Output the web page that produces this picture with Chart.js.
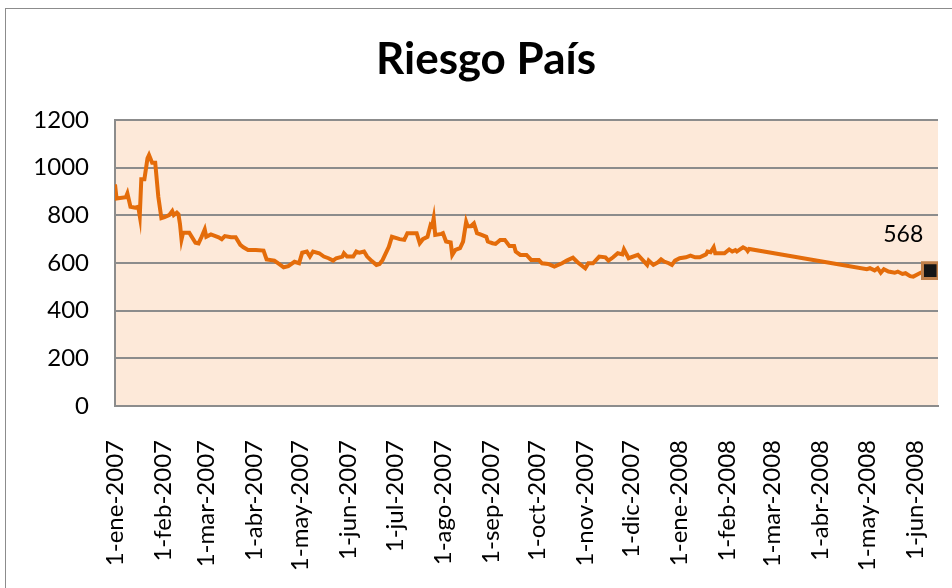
<!DOCTYPE html>
<html>
<head>
<meta charset="utf-8">
<title>Riesgo País</title>
<script src="https://cdn.jsdelivr.net/npm/chart.js@4.4.1/dist/chart.umd.min.js"></script>
<style>
  html, body { margin: 0; padding: 0; background: #fff; overflow: hidden; }
  #frame { position: absolute; left: 5px; top: 8px; width: 1000px; height: 1000px; border: 1.5px solid #8c8c8c; }
  #chart { position: absolute; left: 0; top: 0; }
</style>
</head>
<body>
<div id="frame"></div>
<canvas id="chart" width="952" height="588"></canvas>
<script>
/* DATA – days counted from 1-ene-2007, value in basis points */
const days = [
  0, 1, 7, 8, 10, 13, 15, 16, 17, 19, 21, 22, 24, 26, 28, 30, 32, 35, 37, 38,
  40, 41, 42, 43, 44, 48, 52, 54, 56, 58, 59, 62, 67, 69, 71, 75, 78, 81, 83, 86,
  91, 96, 98, 103, 106, 109, 112, 116, 119, 121, 124, 126, 128, 132, 135, 138, 141, 143, 147, 148,
  150, 154, 156, 158, 161, 163, 166, 169, 171, 173, 177, 179, 182, 184, 187, 189, 195, 197, 199, 202,
  204, 205, 206, 207, 211, 212, 214, 217, 218, 220, 223, 225, 227, 228, 230, 232, 234, 237, 240, 241,
  244, 246, 249, 252, 255, 258, 259, 262, 266, 269, 274, 276, 280, 284, 289, 292, 296, 299, 304, 306,
  309, 313, 317, 319, 322, 325, 328, 329, 332, 338, 341, 344, 345, 348, 351, 353, 355, 358, 360, 362,
  365, 369, 372, 375, 378, 382, 383, 385, 387, 388, 394, 397, 399, 401, 402, 404, 406, 408, 409, 410,
  486, 488, 491, 493, 495, 497, 500, 504, 506, 509, 511, 514, 516, 518, 521, 527
];
const values = [
  930, 871, 876, 892, 836, 832, 836, 797, 951, 951, 1039, 1053, 1021, 1021, 878, 788, 792, 801, 818, 801,
  811, 805, 764, 699, 727, 727, 685, 682, 710, 741, 710, 720, 708, 700, 713, 708, 708, 676, 666, 655,
  655, 652, 615, 610, 596, 582, 587, 605, 599, 643, 648, 627, 648, 641, 627, 620, 610, 620, 627, 641,
  627, 627, 648, 643, 648, 627, 608, 592, 596, 613, 668, 710, 704, 700, 697, 725, 725, 683, 700, 710,
  760, 754, 788, 718, 722, 725, 690, 686, 634, 655, 662, 690, 773, 754, 754, 766, 725, 718, 710, 690,
  683, 680, 697, 697, 671, 671, 648, 634, 634, 613, 613, 599, 596, 585, 599, 610, 622, 603, 578, 599,
  599, 627, 624, 610, 624, 641, 636, 657, 620, 634, 613, 592, 610, 592, 603, 615, 606, 599, 592, 610,
  620, 624, 631, 624, 624, 636, 648, 645, 666, 641, 641, 657, 648, 654, 648, 657, 666, 659, 650, 659,
  574, 578, 569, 578, 559, 574, 564, 559, 564, 554, 557, 545, 543, 550, 560, 568
];

/* X TICKS – first day of each month */
const tickLabels = [
  "1-ene-2007", "1-feb-2007", "1-mar-2007", "1-abr-2007", "1-may-2007", "1-jun-2007",
  "1-jul-2007", "1-ago-2007", "1-sep-2007", "1-oct-2007", "1-nov-2007", "1-dic-2007",
  "1-ene-2008", "1-feb-2008", "1-mar-2008", "1-abr-2008", "1-may-2008", "1-jun-2008"
];
const tickDays = tickLabels.map((_, i) =>
  Math.round((Date.UTC(2007, i, 1) - Date.UTC(2007, 0, 1)) / 86400000));

const yTicks = [0, 200, 400, 600, 800, 1000, 1200];

const points = days.map((d, i) => ({ x: d, y: values[i] }));
const last = points.length - 1;

const FONT = "Lato";
const GRAY = "#8c8c8c";

/* PLOT AREA FILL */
const plotBg = {
  id: "plotBg",
  beforeDraw(chart) {
    const { ctx, chartArea: a } = chart;
    ctx.save();
    ctx.fillStyle = "#fde9d9";
    ctx.fillRect(a.left, a.top, a.right - a.left, a.bottom - a.top);
    ctx.restore();
  }
};

/* TITLE (chart frame is wider than the window, so it is centred on the frame) */
const titleText = {
  id: "titleText",
  afterDraw(chart) {
    const { ctx } = chart;
    ctx.save();
    ctx.font = "bold 44px " + FONT;
    ctx.fillStyle = "#000";
    ctx.textAlign = "center";
    ctx.textBaseline = "middle";
    ctx.fillText("Riesgo País", 486, 60);
    ctx.restore();
  }
};

/* LABEL ON LAST POINT */
const lastLabel = {
  id: "lastLabel",
  afterDatasetsDraw(chart) {
    const pt = chart.getDatasetMeta(0).data[last];
    const { ctx } = chart;
    ctx.save();
    ctx.font = "23px " + FONT;
    ctx.fillStyle = "#000";
    ctx.textAlign = "center";
    ctx.textBaseline = "middle";
    ctx.fillText(String(values[last]), pt.x - 27, pt.y - 36);
    ctx.restore();
  }
};

new Chart(document.getElementById("chart"), {
  type: "line",
  data: {
    datasets: [{
      label: "Riesgo País",
      data: points,
      borderColor: "#e46c0a",
      borderWidth: 4,
      tension: 0,
      pointRadius: c => c.dataIndex === last ? 11 : 0,
      pointStyle: "rect",
      pointBackgroundColor: "#151515",
      pointBorderColor: "#c0804a",
      pointBorderWidth: 3
    }]
  },
  options: {
    responsive: false,
    animation: false,
    layout: { padding: { top: 120, right: 9, left: 0, bottom: 0 } },
    plugins: { legend: { display: false }, tooltip: { enabled: false }, title: { display: false } },
    scales: {
      x: {
        type: "linear",
        min: 0,
        max: 532,
        afterBuildTicks: s => { s.ticks = tickDays.map(v => ({ value: v })); },
        afterFit: s => { s.height = 182; s.paddingLeft = 0; s.paddingRight = 0; },
        ticks: {
          autoSkip: false,
          minRotation: 90,
          maxRotation: 90,
          padding: 26,
          color: "#000",
          font: { family: FONT, size: 24 },
          callback: (v, i) => tickLabels[i]
        },
        grid: { display: false },
        border: { display: true, color: GRAY, width: 2 }
      },
      y: {
        min: 0,
        max: 1200,
        afterBuildTicks: s => { s.ticks = yTicks.map(v => ({ value: v })); },
        afterFit: s => { s.width = 115; },
        ticks: {
          padding: 26,
          color: "#000",
          font: { family: FONT, size: 24 },
          callback: v => String(v)
        },
        grid: { color: GRAY, lineWidth: 2, drawTicks: false },
        border: { display: true, color: GRAY, width: 2 }
      }
    }
  },
  plugins: [plotBg, titleText, lastLabel]
});
</script>
</body>
</html>
